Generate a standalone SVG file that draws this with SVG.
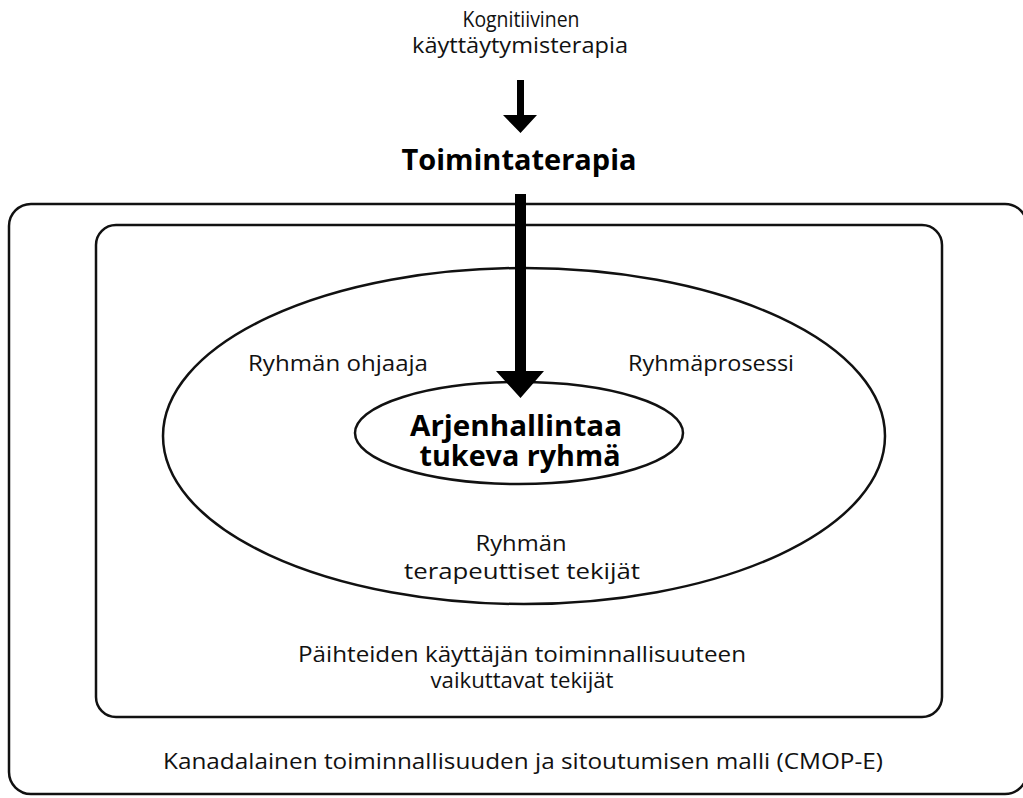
<svg xmlns="http://www.w3.org/2000/svg" width="1023" height="798" viewBox="0 0 1023 798">
<style>
.t{font-family:"Open Sans","Noto Sans",sans-serif;font-size:21px;fill:#111;text-anchor:middle}
.b{font-family:"Open Sans","Noto Sans",sans-serif;font-weight:bold;fill:#000;text-anchor:middle}
.s{fill:none;stroke:#111;stroke-width:2.5}
</style>
<rect width="1023" height="798" fill="#fff"/>
<g id="outer-model">
<rect class="s" x="9" y="204" width="1018" height="590" rx="22"/>
<text class="t" x="523" y="769" textLength="720" lengthAdjust="spacingAndGlyphs">Kanadalainen toiminnallisuuden ja sitoutumisen malli (CMOP-E)</text>
</g>
<g id="factors">
<rect class="s" x="96" y="225" width="846" height="492" rx="20"/>
<text class="t" x="522" y="662" textLength="448" lengthAdjust="spacingAndGlyphs">Päihteiden käyttäjän toiminnallisuuteen</text>
<text class="t" x="522" y="688" textLength="183" lengthAdjust="spacingAndGlyphs">vaikuttavat tekijät</text>
</g>
<g id="group-ellipse">
<ellipse class="s" cx="524" cy="436" rx="361" ry="168"/>
<text class="t" x="338" y="371" textLength="180" lengthAdjust="spacingAndGlyphs">Ryhmän ohjaaja</text>
<text class="t" x="711" y="371" textLength="166" lengthAdjust="spacingAndGlyphs">Ryhmäprosessi</text>
<text class="t" x="521" y="551" textLength="91" lengthAdjust="spacingAndGlyphs">Ryhmän</text>
<text class="t" x="522" y="579" textLength="236" lengthAdjust="spacingAndGlyphs">terapeuttiset tekijät</text>
</g>
<g id="core">
<ellipse class="s" cx="519" cy="433" rx="164" ry="51"/>
<text class="b" x="516" y="436" font-size="28" textLength="212" lengthAdjust="spacingAndGlyphs">Arjenhallintaa</text>
<text class="b" x="520" y="466" font-size="28" textLength="201" lengthAdjust="spacingAndGlyphs">tukeva ryhmä</text>
</g>
<g id="cbt">
<text class="t" x="521" y="27" textLength="117" lengthAdjust="spacingAndGlyphs">Kognitiivinen</text>
<text class="t" x="520" y="53" textLength="216" lengthAdjust="spacingAndGlyphs">käyttäytymisterapia</text>
</g>
<g id="ot">
<text class="b" x="519" y="170" font-size="29" textLength="235" lengthAdjust="spacingAndGlyphs">Toimintaterapia</text>
</g>
<g id="connectors">
<path d="M517,80 H524 V115 H537 L520.5,133 L503,115 H517 Z" fill="#000"/>
<path d="M515,194 H526 V371 H544 L520.5,398 L496,371 H515 Z" fill="#000"/>
</g>
</svg>
